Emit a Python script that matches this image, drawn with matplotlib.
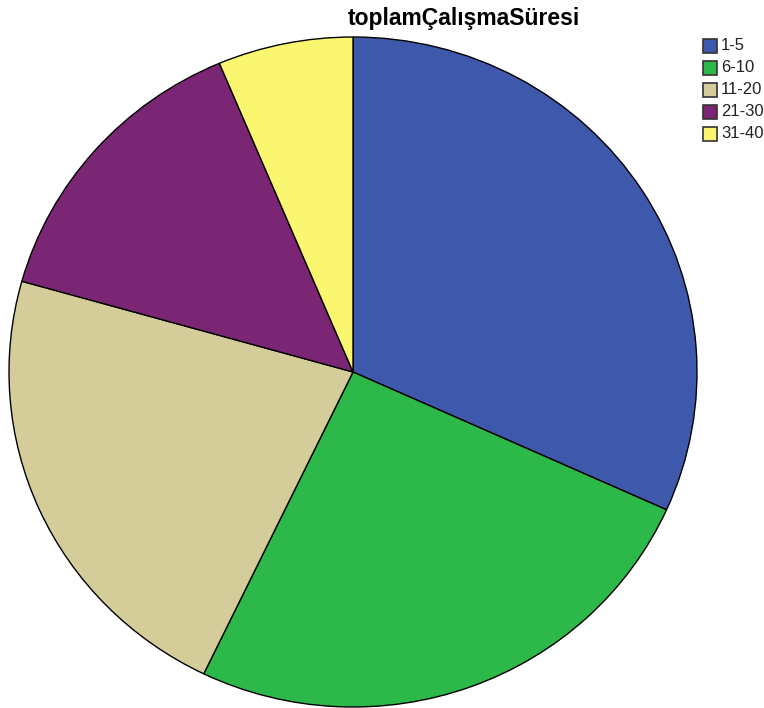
import matplotlib.pyplot as plt
from matplotlib.patches import Rectangle

plt.rcParams['font.family'] = ['Liberation Sans', 'DejaVu Sans']

labels = ['1-5', '6-10', '11-20', '21-30', '31-40']
counts = [20, 16, 14, 9, 4]
colors = ['#3E58AC', '#2DB84A', '#D4CD9A', '#7A2675', '#FBF66F']

W, H = 764, 708
fig = plt.figure(figsize=(W / 100, H / 100), dpi=100)

# pie is slightly wider than tall, so the axes are not square
cx, cy, rx, ry = 353, 372, 344, 335
ax = fig.add_axes([(cx - rx) / W, (H - cy - ry) / H, 2 * rx / W, 2 * ry / H])
ax.pie(counts, colors=colors, startangle=90, counterclock=False,
       wedgeprops=dict(edgecolor='black', linewidth=1.0))
ax.set_aspect('auto')
ax.set_xlim(-1, 1)
ax.set_ylim(-1, 1)
ax.axis('off')

fig.text(464 / W, 1 - 18 / H, 'toplamÇalışmaSüresi', ha='center', va='center',
         fontsize=16.5, fontweight='bold')

# legend drawn by hand: square boxes with the label to the right
box, step = 14, 22
for i, (lab, col) in enumerate(zip(labels, colors)):
    top = 39 + i * step
    fig.add_artist(Rectangle((703 / W, 1 - (top + box) / H), box / W, box / H,
                             transform=fig.transFigure, facecolor=col,
                             edgecolor='#333333', linewidth=1.2))
    fig.text(721 / W, 1 - (top + box / 2) / H, lab, ha='left', va='center',
             fontsize=12, color='#222222')

fig.savefig('out.png', dpi=100)
